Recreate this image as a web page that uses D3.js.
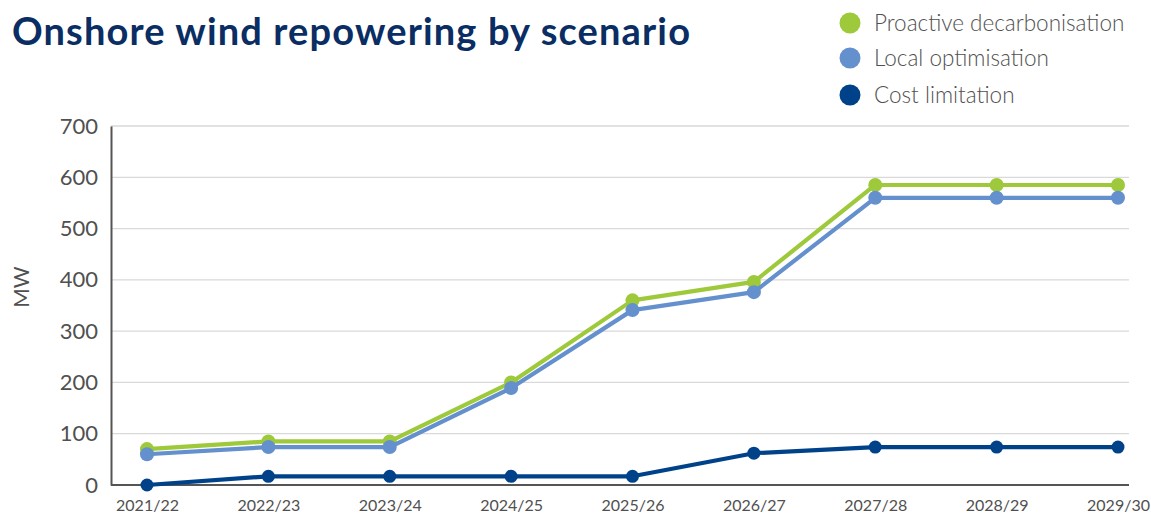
<!DOCTYPE html>
<html><head><meta charset="utf-8">
<script src="https://cdn.jsdelivr.net/npm/d3@7"></script>
<style>
body{margin:0;background:#fff;}
svg{display:block;font-family:Lato,"Open Sans",sans-serif;}
</style></head>
<body><svg id="c" width="1151" height="516"></svg>
<script>
const categories = ["2021/22","2022/23","2023/24","2024/25","2025/26","2026/27","2027/28","2028/29","2029/30"];
const proactive = [70, 85, 85, 200, 360, 396, 585, 585, 585];
const local = [60, 74, 74, 189, 341, 376, 560, 560, 560];
const cost = [0, 17, 17, 17, 17, 62, 74, 74, 74];
const yTicks = [0,100,200,300,400,500,600,700];
const seriesNames = ["Proactive decarbonisation","Local optimisation","Cost limitation"];
const colors = ["#9dc93b","#6490cd","#00428a"];

const svg = d3.select("#c");
const pL = 111, pR = 1129, pT = 126, pB = 485;
const x = d3.scalePoint().domain(categories).range([147, 1118]);
const y = d3.scaleLinear().domain([0,700]).range([pB, pT]);

// title
svg.append("text").attr("x",12).attr("y",45).text("Onshore wind repowering by scenario")
  .attr("font-size",38).attr("font-weight",700).attr("fill","#0a2d63")
  .attr("textLength",678).attr("lengthAdjust","spacing");

// gridlines
svg.append("g").selectAll("line").data(yTicks.filter(d=>d>0)).join("line")
  .attr("x1",pL).attr("x2",pR).attr("y1",d=>y(d)).attr("y2",d=>y(d))
  .attr("stroke","#d9d9d9").attr("stroke-width",1.3);

// y axis
const ya = svg.append("g").attr("transform",`translate(${pL},0)`)
  .call(d3.axisLeft(y).tickValues(yTicks).tickSize(0).tickPadding(13));
ya.select(".domain").attr("stroke","#555").attr("stroke-width",2);
ya.selectAll("text").attr("font-size",22).attr("fill","#505050").attr("font-family","Lato,sans-serif");

// x axis
const xa = svg.append("g").attr("transform",`translate(0,${pB})`)
  .call(d3.axisBottom(x).tickSize(0).tickPadding(15));
xa.select(".domain").attr("d",`M${pL},0H${pR}`).attr("stroke","#555").attr("stroke-width",2);
xa.selectAll("text").attr("font-size",16).attr("fill","#505050").attr("font-family","Lato,sans-serif");

// y label
svg.append("text").attr("transform","translate(29,287) rotate(-90)").attr("text-anchor","middle")
  .attr("font-size",21).attr("fill","#505050").text("MW");

const allSeries = [proactive, local, cost];
const radii = [7, 7, 6.5];
const line = d3.line().x((d,i)=>x(categories[i])).y(d=>y(d));
allSeries.forEach((s,k)=>{
  const g = svg.append("g");
  g.append("path").datum(s).attr("d",line).attr("fill","none")
    .attr("stroke",colors[k]).attr("stroke-width",4.2).attr("stroke-linejoin","round");
  g.selectAll("circle").data(s).join("circle")
    .attr("cx",(d,i)=>x(categories[i])).attr("cy",d=>y(d)).attr("r",radii[k]).attr("fill",colors[k]);
});

// legend
const ly = [23, 58, 95];
const lg = svg.append("g");
seriesNames.forEach((n,k)=>{
  lg.append("circle").attr("cx",850).attr("cy",ly[k]).attr("r",10.5).attr("fill",colors[k]);
  lg.append("text").attr("x",874).attr("y",ly[k]).attr("dy","0.35em").attr("font-size",22.5)
    .attr("font-weight",300).attr("fill","#505050").text(n);
});
</script></body></html>
